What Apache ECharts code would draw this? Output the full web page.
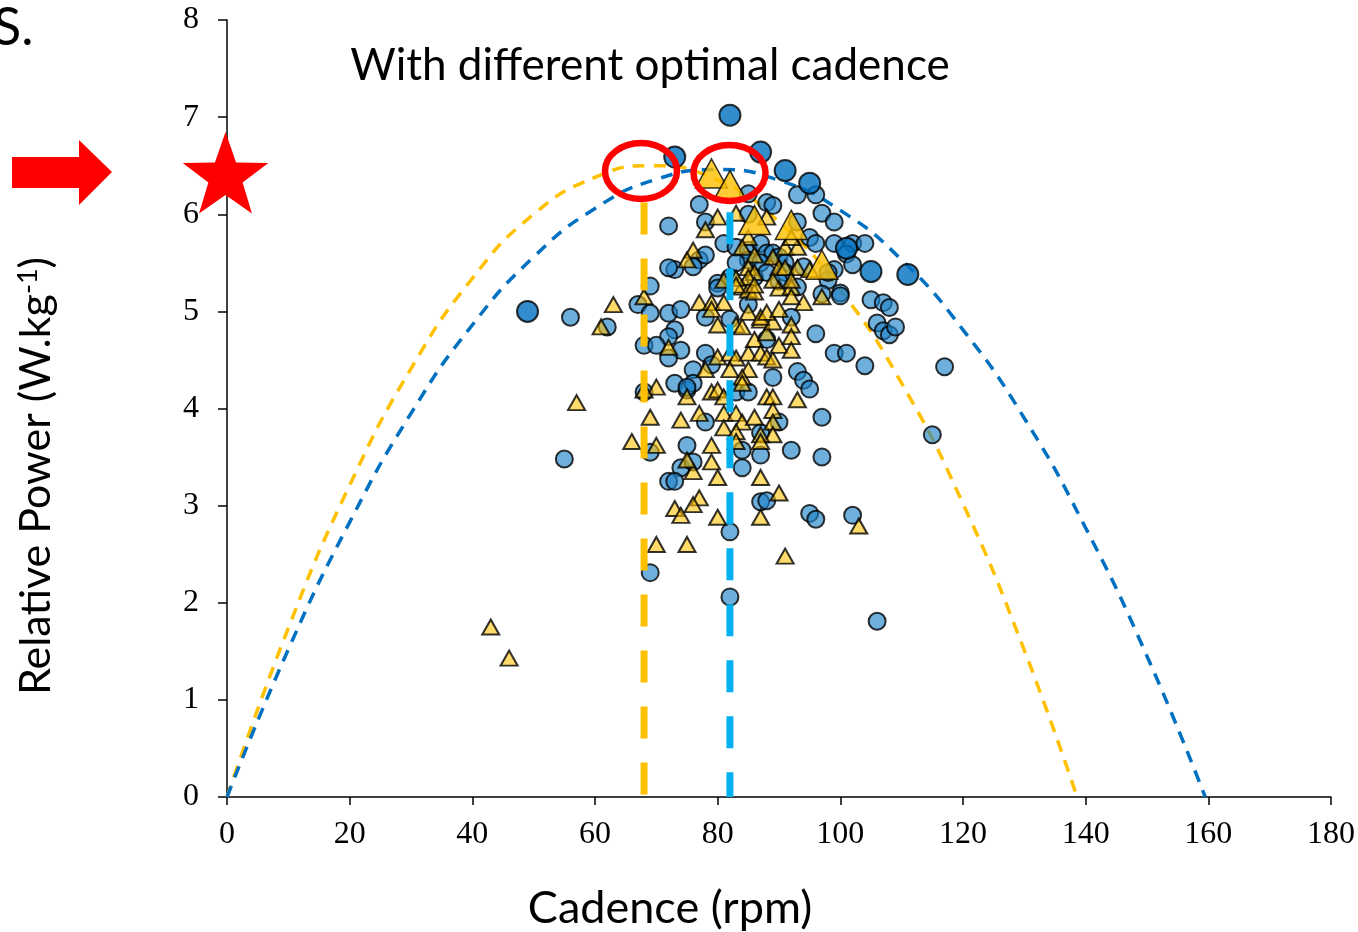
<!DOCTYPE html>
<html><head><meta charset="utf-8">
<script src="https://cdn.jsdelivr.net/npm/echarts@6/dist/echarts.min.js"></script>
<style>html,body{margin:0;padding:0;background:#fff}#c{width:1358px;height:932px}</style>
</head><body><div id="c"></div>
<script>
// ---- data (cadence rpm, relative power W/kg) ----
const xTicks = [0,20,40,60,80,100,120,140,160,180];
const yTicks = [0,1,2,3,4,5,6,7,8];

const circlesSmall = [
[56,4.94],[62,4.84],[55,3.48],[67,5.07],[69,5.26],[69,4.98],[72,4.98],[74,5.02],[73,4.81],[72,4.74],
[68,4.65],[70,4.65],[74,4.60],[72,4.52],[76,4.40],[73,4.26],[75,4.19],[68,4.17],[75,3.62],[69,3.55],
[74,3.39],[72,3.25],[73,3.25],[69,2.31],[76,3.45],[78,3.86],[82,2.73],[82,2.06],[106,1.81],
[77,6.10],[72,5.88],[78,5.92],[85,6.21],[88,6.12],[89,6.09],[93,6.20],[96,6.20],[97,6.01],[99,5.92],
[85,6.00],[93,5.92],[81,5.70],[83,5.66],[85,5.63],[87,5.70],[88,5.60],[89,5.60],[90,5.56],[95,5.76],
[96,5.70],[99,5.70],[102,5.70],[104,5.70],[101,5.59],[102,5.48],[99,5.43],[98,5.32],[100,5.19],
[77,5.53],[76,5.46],[73,5.43],[72,5.45],[78,5.58],[85,5.53],[87,5.50],[91,5.50],[94,5.46],[98,5.40],
[83,5.50],[80,5.29],[82,5.35],[91,5.40],[86,5.35],[88,5.40],
[105,5.12],[107,5.09],[108,5.04],[106,4.88],[107,4.80],[108,4.76],[109,4.84],[92,4.94],[80,5.24],
[78,4.94],[82,4.92],[85,5.07],[97,5.18],[100,5.16],[90,5.31],[93,5.25],[96,4.77],[99,4.57],[101,4.57],
[104,4.44],[117,4.43],[93,4.38],[94,4.29],[95,4.20],[89,4.32],[83,4.17],[85,4.17],[88,4.71],[78,4.57],
[79,4.45],[76,4.26],[75,4.22],[97,3.91],[90,3.86],[87,3.75],[84,3.57],[87,3.52],[92,3.57],[97,3.50],
[84,3.39],[87,3.04],[88,3.05],[95,2.92],[96,2.86],[102,2.90],[115,3.73]
];

const trianglesSmall = [
[63,5.07],[61,4.84],[57,4.06],[66,3.66],[43,1.75],[46,1.43],[70,2.60],[75,2.60],[91,2.48],[103,2.79],
[90,3.13],[77,3.08],[76,3.01],[73,2.97],[74,2.90],[80,2.88],[87,2.88],[76,3.35],[80,3.29],[87,3.29],
[75,3.47],[79,3.45],[70,3.62],[79,3.62],[69,3.91],[74,3.88],[70,4.22],[68,4.19],[75,4.12],[77,3.95],
[79,4.17],[80,4.19],[81,4.12],[81,3.95],[83,3.95],[84,3.86],[86,3.91],[88,4.12],[89,4.12],[93,4.09],
[89,3.98],[89,3.86],[89,3.73],[87,3.73],[87,3.66],[81,3.80],[83,3.76],[83,3.66],[72,4.63],[78,4.40],
[80,4.53],[82,4.57],[83,4.52],[85,4.57],[86,4.71],[87,4.57],[88,4.53],[89,4.50],[88,4.78],[90,4.65],
[92,4.86],[92,4.74],[92,4.60],[82,4.40],[85,4.40],[84,4.32],[84,4.26],[80,4.86],[83,4.86],[84,4.84],
[87,4.91],[89,4.89],[85,4.99],[87,4.94],[88,4.99],[90,5.02],[77,5.09],[79,5.09],[81,5.09],[79,5.02],
[84,5.25],[85,5.22],[86,5.20],[90,5.24],[92,5.25],[94,5.09],[97,5.15],[92,5.15],[68,5.15],[80,5.97],
[78,5.84],[83,6.01],[88,5.97],[76,5.63],[75,5.53],[85,5.76],[84,5.66],[86,5.58],[89,5.56],[91,5.66],
[93,5.66],[92,5.76],[90,5.45],[91,5.45],[93,5.45],[95,5.43],[85,5.45],[86,5.40],[85,5.35],[83,5.34],
[81,5.32],[89,5.32],[92,5.32],[83,5.27],[86,5.27]
];

const circlesBig = [[49,5.00],[82,7.02],[73,6.59],[87,6.64],[91,6.45],[95,6.32],[101,5.65],[105,5.41],[111,5.38]];
const trianglesBig = [[79,6.42],[82,6.30],[86,5.94],[92,5.89],[97,5.48]];

// fitted power–cadence curves
const orangeCurve = [[0,0],[10,1.74],[20,3.21],[30,4.41],[40,5.34],[50,6.00],[60,6.38],[69,6.50],[80,6.35],[90,5.92],[100,5.22],[110,4.26],[120,3.02],[130,1.51],[138.6,0]];
const blueCurve = [[0,0],[10,1.52],[20,2.83],[30,3.95],[40,4.86],[50,5.56],[60,6.06],[70,6.36],[80,6.46],[90,6.35],[100,6.04],[110,5.53],[120,4.81],[130,3.90],[140,2.77],[150,1.45],[159.5,0]];

// optimal cadence markers
const orangeOpt = [[68,6.12],[68,0]];
const blueOpt = [[82,6.02],[82,0]];

// ---- chart ----
const chart = echarts.init(document.getElementById('c'), null, {renderer:'canvas'});
const starPts = (cx,cy,R,r)=>{const p=[];for(let i=0;i<10;i++){const a=-Math.PI/2+i*Math.PI/5;const rr=i%2?r:R;p.push([cx+rr*Math.cos(a),cy+rr*Math.sin(a)]);}return p;};

chart.setOption({
  animation:false,
  backgroundColor:'#fff',
  grid:{left:227,top:20,width:1104,height:777,containLabel:false},
  xAxis:{type:'value',min:0,max:180,interval:20,
    axisLine:{onZero:false,lineStyle:{color:'#000',width:1.5}},
    axisTick:{show:true,inside:false,length:8,lineStyle:{color:'#000',width:1.5}},
    splitLine:{show:false},
    axisLabel:{color:'#000',fontFamily:'Liberation Serif',fontSize:32,margin:22}},
  yAxis:{type:'value',min:0,max:8,interval:1,
    axisLine:{onZero:false,lineStyle:{color:'#000',width:1.5}},
    axisTick:{show:true,inside:false,length:9,lineStyle:{color:'#000',width:1.5}},
    splitLine:{show:false},
    axisLabel:{color:'#000',fontFamily:'Liberation Serif',fontSize:32,margin:28}},
  series:[
    {type:'line',data:orangeCurve,smooth:true,symbol:'none',z:2,
      lineStyle:{color:'#FFC000',width:3.5,type:[12,9]}},
    {type:'line',data:blueCurve,smooth:true,symbol:'none',z:2,
      lineStyle:{color:'#0070C0',width:3.5,type:[12,9]}},
    {type:'scatter',data:circlesSmall,symbol:'circle',symbolSize:17,z:3,
      itemStyle:{color:'rgba(30,130,200,0.8)',borderColor:'#000',borderWidth:2}},
    {type:'scatter',data:trianglesSmall,symbol:'triangle',symbolSize:[17,15],z:4,
      itemStyle:{color:'rgba(255,192,0,0.72)',borderColor:'#000',borderWidth:2}},
    {type:'line',data:orangeOpt,symbol:'none',z:5,
      lineStyle:{color:'#FFC000',width:7,type:[32,24],cap:'butt'}},
    {type:'line',data:blueOpt,symbol:'none',z:5,
      lineStyle:{color:'#00B0F0',width:7,type:[32,24],cap:'butt'}},
    {type:'scatter',data:circlesBig,symbol:'circle',symbolSize:21,z:6,
      itemStyle:{color:'#0070C0',borderColor:'#000',borderWidth:2}},
    {type:'scatter',data:trianglesBig,symbol:'triangle',symbolSize:[32,29],z:7,
      itemStyle:{color:'#FFC000',borderColor:'#000',borderWidth:1.5}}
  ],
  graphic:[
    {type:'text',x:650,y:66,style:{text:'With different optimal cadence',font:'44px Lato',fill:'#000',align:'center',verticalAlign:'middle'}},
    {type:'text',x:670,y:908,style:{text:'Cadence (rpm)',font:'45px Lato',fill:'#000',align:'center',verticalAlign:'middle'}},
    {type:'text',x:36,y:476,rotation:Math.PI/2,
      style:{text:'{a|Relative Power (W.kg}{s|-1}{a|)}',align:'center',verticalAlign:'middle',
        rich:{a:{fontFamily:'Lato',fontSize:43,fill:'#000'},s:{fontFamily:'Lato',fontSize:27,fill:'#000',verticalAlign:'top',padding:[0,0,16,0]}}}},
    {type:'text',x:-7,y:28,style:{text:'S.',font:'52px Lato',fill:'#000',verticalAlign:'middle'}},
    {type:'polygon',shape:{points:[[12,157],[79,157],[79,140],[112,172],[79,205],[79,188],[12,188]]},style:{fill:'#FF0000'},z:100},
    {type:'polygon',shape:{points:starPts(225.5,177,45,18)},style:{fill:'#FF0000'},z:100},
    {type:'ellipse',shape:{cx:641,cy:171,rx:36,ry:28},style:{fill:'none',stroke:'#FF0000',lineWidth:6.5},z:100},
    {type:'ellipse',shape:{cx:729.5,cy:173,rx:36,ry:28},style:{fill:'none',stroke:'#FF0000',lineWidth:6.5},z:100}
  ]
});
</script></body></html>
